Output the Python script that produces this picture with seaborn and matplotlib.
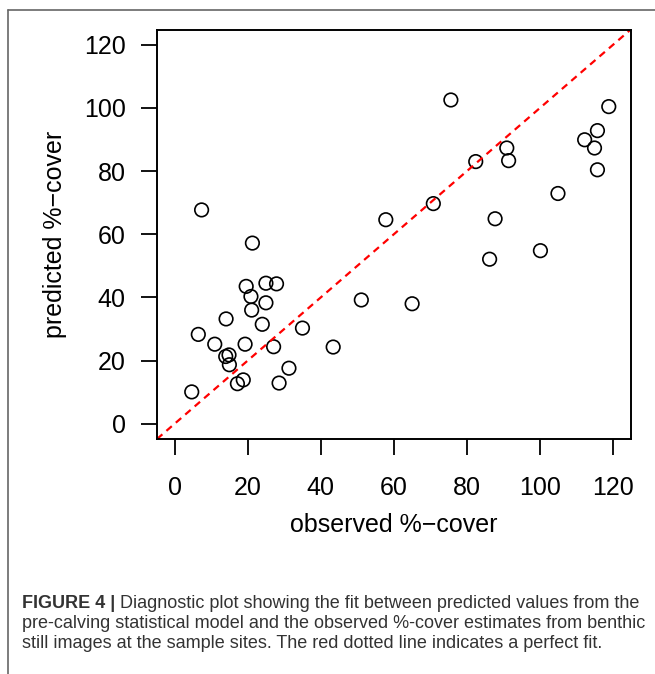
import matplotlib
matplotlib.use("Agg")
import matplotlib.pyplot as plt
from matplotlib.lines import Line2D
import pandas as pd
import seaborn as sns

# observed vs predicted %-cover
observed = [75.6, 118.8, 115.7, 112.2, 114.9, 90.9, 91.4, 82.4, 115.7, 104.9,
            70.8, 57.8, 87.7, 86.2, 100.1, 51.1, 65.0, 43.4, 7.4, 21.3,
            19.6, 25.0, 27.9, 20.9, 25.0, 21.1, 14.1, 24.0, 35.0, 6.5,
            11.0, 19.3, 27.1, 14.0, 14.9, 15.0, 31.3, 18.8, 17.2, 28.6, 4.7]
predicted = [102.5, 100.4, 92.8, 89.9, 87.3, 87.3, 83.3, 83.0, 80.4, 72.9,
             69.7, 64.6, 64.9, 52.1, 54.8, 39.2, 38.0, 24.3, 67.7, 57.2,
             43.5, 44.5, 44.3, 40.3, 38.3, 36.0, 33.2, 31.5, 30.3, 28.3,
             25.2, 25.2, 24.4, 21.3, 21.8, 18.7, 17.6, 13.9, 12.7, 12.9, 10.1]
ticks = [0, 20, 40, 60, 80, 100, 120]

caption_bold = "FIGURE 4 |"
caption_lines = [
    " Diagnostic plot showing the fit between predicted values from the",
    "pre-calving statistical model and the observed %-cover estimates from benthic",
    "still images at the sample sites. The red dotted line indicates a perfect fit.",
]

df = pd.DataFrame({"observed": observed, "predicted": predicted})

sns.set_style("white")
plt.rcParams["font.family"] = ["Liberation Sans", "DejaVu Sans"]

fig = plt.figure(figsize=(6.55, 6.74), dpi=100)
ax = fig.add_axes([0.2397, 0.3487, 0.7232, 0.6075])

sns.scatterplot(data=df, x="observed", y="predicted", ax=ax, marker="o",
                s=95, facecolors="none", edgecolor="black", linewidth=1.2)

lo, hi = -4.8, 124.8
ax.set_xlim(lo, hi)
ax.set_ylim(lo, hi)
ax.axline((0, 0), slope=1, color="#ff0000", lw=1.6, linestyle=(0, (3.2, 2.4)))

ax.set_xticks(ticks)
ax.set_yticks(ticks)
ax.tick_params(axis="both", direction="out", length=11.5, width=1.3,
               labelsize=18, color="black", labelcolor="black",
               bottom=True, left=True, top=False, right=False)
ax.tick_params(axis="x", pad=15.5)
ax.tick_params(axis="y", pad=11)
for s in ax.spines.values():
    s.set_visible(True)
    s.set_color("black")
    s.set_linewidth(1.4)

ax.set_xlabel("observed %\u2212cover", fontsize=18, labelpad=9, color="black")
ax.set_ylabel("predicted %\u2212cover", fontsize=18, labelpad=12, color="black")

# frame lines of the page
fig.add_artist(Line2D([8 / 655, 1], [1 - 10 / 674, 1 - 10 / 674],
                      color="#666666", lw=1.2, transform=fig.transFigure))
fig.add_artist(Line2D([8 / 655, 8 / 655], [0, 1 - 10 / 674],
                      color="#666666", lw=1.2, transform=fig.transFigure))

# caption
cap_font = ["Liberation Sans Narrow", "Liberation Sans"]
cap_color = "#333333"
cap_size = 13.0
x0 = 22 / 655
ys = [1 - 603 / 674, 1 - 623 / 674, 1 - 643 / 674]
tb = fig.text(x0, ys[0], caption_bold, fontsize=cap_size, fontweight="bold",
              family=cap_font, color=cap_color, va="center")
fig.canvas.draw()
bb = tb.get_window_extent().transformed(fig.transFigure.inverted())
fig.text(bb.x1, ys[0], caption_lines[0], fontsize=cap_size, family=cap_font,
         color=cap_color, va="center")
for line, y in zip(caption_lines[1:], ys[1:]):
    fig.text(x0, y, line, fontsize=cap_size, family=cap_font,
             color=cap_color, va="center")

fig.savefig("out.png", dpi=100)
